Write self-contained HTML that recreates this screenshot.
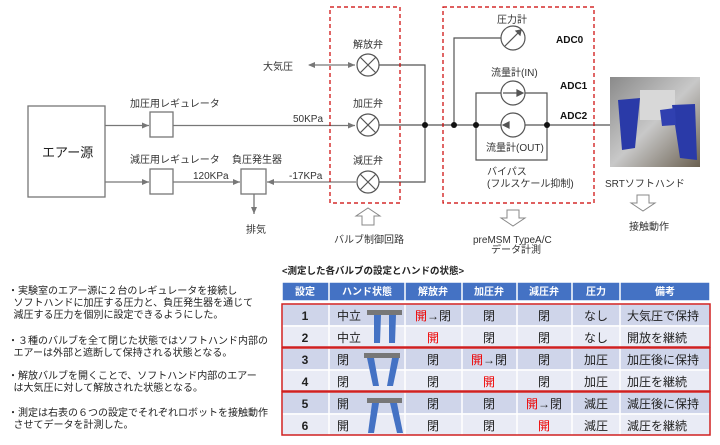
<!DOCTYPE html>
<html><head><meta charset="utf-8"><style>
body{margin:0;width:720px;height:445px;background:#fff;overflow:hidden;font-family:"Liberation Sans","Noto Sans CJK JP",sans-serif;}
.b{position:absolute;font-size:10px;color:#222;line-height:12px;white-space:nowrap}
</style></head><body>
<svg width="720" height="445" style="position:absolute;left:0;top:0" font-family="Liberation Sans, Noto Sans CJK JP, sans-serif">
<defs>
<marker id="a" markerWidth="8" markerHeight="8" refX="7" refY="4" orient="auto" markerUnits="userSpaceOnUse"><path d="M0,1 L7,4 L0,7z" fill="#777"/></marker>
<marker id="as" markerWidth="8" markerHeight="8" refX="1" refY="4" orient="auto" markerUnits="userSpaceOnUse"><path d="M7,1 L0,4 L7,7z" fill="#777"/></marker>
<linearGradient id="ph" x1="0" y1="0" x2="1" y2="1"><stop offset="0" stop-color="#8a8a8a"/><stop offset=".5" stop-color="#c8c8c8"/><stop offset="1" stop-color="#6a6050"/></linearGradient>
</defs>
<g stroke="#777" stroke-width="1.3" fill="none">
<rect x="28" y="106" width="77" height="91" fill="#fff"/>
<rect x="150" y="112" width="23" height="25"/>
<rect x="150" y="169" width="23" height="25"/>
<rect x="241" y="169" width="25" height="25"/>
<line x1="105" y1="125.5" x2="149" y2="125.5" marker-end="url(#a)"/>
<line x1="105" y1="182" x2="149" y2="182" marker-end="url(#a)"/>
<line x1="173" y1="125.5" x2="355" y2="125.5" marker-end="url(#a)"/>
<line x1="173" y1="182" x2="240" y2="182" marker-end="url(#a)"/>
<line x1="356" y1="182" x2="267" y2="182" marker-end="url(#a)"/>
<line x1="254" y1="194" x2="254" y2="214" marker-end="url(#a)"/>
<line x1="309" y1="65" x2="355" y2="65" marker-start="url(#as)" marker-end="url(#a)"/>
</g>
<g stroke="#555" stroke-width="1.2" fill="#fff">
<circle cx="368" cy="65" r="11"/><path d="M360,57 L376,73 M376,57 L360,73"/>
<circle cx="368" cy="125" r="11"/><path d="M360,117 L376,133 M376,117 L360,133"/>
<circle cx="368" cy="182" r="11"/><path d="M360,174 L376,190 M376,174 L360,190"/>
<path fill="none" d="M379,65 H425 V182 H379 M379,125 H610 M454,125 V38 H501 M476,93 V160 H547 V93 Z"/>
<circle cx="513" cy="38" r="12"/><line x1="505" y1="46" x2="521" y2="30"/><path d="M521,30 l-5,1 l4,4z" fill="#555"/>
<circle cx="513" cy="93" r="12"/><line x1="503" y1="93" x2="522" y2="93"/><path d="M523,93 l-6,-3 v6z" fill="#555"/>
<circle cx="513" cy="125" r="12"/><path d="M503,125 l6,-3 v6z" fill="#555"/>
</g>
<g fill="#111"><circle cx="425" cy="125" r="3"/><circle cx="454" cy="125" r="3"/><circle cx="476" cy="125" r="3"/><circle cx="547" cy="125" r="3"/></g>
<rect x="330" y="7" width="70" height="196" fill="none" stroke="#c00" stroke-width="1.2" stroke-dasharray="4,3"/>
<rect x="443" y="7" width="151" height="196" fill="none" stroke="#c00" stroke-width="1.2" stroke-dasharray="4,3"/>
<g fill="#fff" stroke="#888" stroke-width="1">
<path d="M362,225 V216 H356 L368,208 L380,216 H374 V225 Z"/>
<path d="M507,210 V218 H501 L513,226 L525,218 H519 V210 Z"/>
<path d="M637,195 V203 H631 L643,211 L655,203 H649 V195 Z"/>
</g>
<rect x="610" y="77" width="90" height="90" fill="url(#ph)"/>
<rect x="640" y="90" width="35" height="30" fill="#d8d8d8"/>
<path d="M618,100 L640,98 L635,148 L622,150 Z" fill="#2a3aa8"/>
<path d="M672,105 L695,104 L697,160 L680,158 Z" fill="#2a3aa8"/>
<path d="M660,110 L675,108 L676,125 L662,126Z" fill="#3040b0"/>
<g font-size="10" fill="#333">
<text x="263" y="70">大気圧</text>
<text x="130" y="107">加圧用レギュレータ</text>
<text x="130" y="163">減圧用レギュレータ</text>
<text x="232" y="163">負圧発生器</text>
<text x="193" y="179">120KPa</text>
<text x="293" y="122">50KPa</text>
<text x="289" y="179">-17KPa</text>
<text x="246" y="233">排気</text>
<text x="353" y="48">解放弁</text>
<text x="353" y="107">加圧弁</text>
<text x="353" y="164">減圧弁</text>
<text x="334" y="243">バルブ制御回路</text>
<text x="497" y="23">圧力計</text>
<text x="491" y="76">流量計(IN)</text>
<text x="486" y="151">流量計(OUT)</text>
<text x="487" y="175">バイパス</text>
<text x="487" y="187">(フルスケール抑制)</text>
<text x="473" y="243">preMSM TypeA/C</text>
<text x="491" y="253">データ計測</text>
<text x="605" y="187">SRTソフトハンド</text>
<text x="629" y="230">接触動作</text>
</g>
<text x="42" y="157" font-size="13" fill="#222">エアー源</text>
<g font-size="10" font-weight="bold" fill="#111"><text x="556" y="43">ADC0</text><text x="560" y="89">ADC1</text><text x="560" y="119">ADC2</text></g>
</svg>
<div class="b" style="left:8px;top:286px">・実験室のエアー源に２台のレギュレータを接続し<br>&nbsp;&nbsp;ソフトハンドに加圧する圧力と、負圧発生器を通じて<br>&nbsp;&nbsp;減圧する圧力を個別に設定できるようにした。</div>
<div class="b" style="left:8px;top:336px">・３種のバルブを全て閉じた状態ではソフトハンド内部の<br>&nbsp;&nbsp;エアーは外部と遮断して保持される状態となる。</div>
<div class="b" style="left:8px;top:371px">・解放バルブを開くことで、ソフトハンド内部のエアー<br>&nbsp;&nbsp;は大気圧に対して解放された状態となる。</div>
<div class="b" style="left:8px;top:408px">・測定は右表の６つの設定でそれぞれロボットを接触動作<br>&nbsp;&nbsp;させてデータを計測した。</div>
<svg width="720" height="445" style="position:absolute;left:0;top:0" font-family="Liberation Sans, Noto Sans CJK JP, sans-serif">
<text x="282" y="274" font-size="9.5" font-weight="bold" fill="#222">&lt;測定した各バルブの設定とハンドの状態&gt;</text>
<g stroke="#fff" stroke-width="1.5">
<rect x="282" y="282" width="428" height="19" fill="#4472c4"/>
<rect x="282" y="304" width="428" height="22" fill="#cfd5ea"/><rect x="282" y="326" width="428" height="22" fill="#e9ebf5"/>
<rect x="282" y="348" width="428" height="22" fill="#cfd5ea"/><rect x="282" y="370" width="428" height="22" fill="#e9ebf5"/>
<rect x="282" y="392" width="428" height="22" fill="#cfd5ea"/><rect x="282" y="414" width="428" height="22" fill="#e9ebf5"/>
<path d="M329,282V436M405,282V436M462,282V436M517,282V436M572,282V436M620,282V436"/>
</g>
<g fill="none" stroke="#d02020" stroke-width="1.5"><rect x="282" y="304" width="428" height="43"/><rect x="282" y="348" width="428" height="43"/><rect x="282" y="392" width="428" height="43"/></g>
<g font-size="10" font-weight="bold" fill="#fff" text-anchor="middle"><text x="305" y="295">設定</text><text x="367" y="295">ハンド状態</text><text x="433" y="295">解放弁</text><text x="489" y="295">加圧弁</text><text x="544" y="295">減圧弁</text><text x="596" y="295">圧力</text><text x="665" y="295">備考</text></g>
<g font-size="12" fill="#222">
<g font-weight="bold" text-anchor="middle"><text x="305" y="320">1</text><text x="305" y="342">2</text><text x="305" y="364">3</text><text x="305" y="386">4</text><text x="305" y="408">5</text><text x="305" y="430">6</text></g>
<text x="337" y="320">中立</text><text x="337" y="342">中立</text><text x="337" y="364">閉</text><text x="337" y="386">閉</text><text x="337" y="408">開</text><text x="337" y="430">開</text>
<g text-anchor="middle">
<text x="433" y="320"><tspan fill="#e00">開</tspan>→閉</text><text x="433" y="342" fill="#e00">開</text><text x="433" y="364">閉</text><text x="433" y="386">閉</text><text x="433" y="408">閉</text><text x="433" y="430">閉</text>
<text x="489" y="320">閉</text><text x="489" y="342">閉</text><text x="489" y="364"><tspan fill="#e00">開</tspan>→閉</text><text x="489" y="386" fill="#e00">開</text><text x="489" y="408">閉</text><text x="489" y="430">閉</text>
<text x="544" y="320">閉</text><text x="544" y="342">閉</text><text x="544" y="364">閉</text><text x="544" y="386">閉</text><text x="544" y="408"><tspan fill="#e00">開</tspan>→閉</text><text x="544" y="430" fill="#e00">開</text>
<text x="596" y="320">なし</text><text x="596" y="342">なし</text><text x="596" y="364">加圧</text><text x="596" y="386">加圧</text><text x="596" y="408">減圧</text><text x="596" y="430">減圧</text>
</g>
<text x="627" y="320">大気圧で保持</text><text x="627" y="342">開放を継続</text><text x="627" y="364">加圧後に保持</text><text x="627" y="386">加圧を継続</text><text x="627" y="408">減圧後に保持</text><text x="627" y="430">減圧を継続</text>
</g>
<g fill="#4472c4"><rect x="367" y="310" width="35" height="5" fill="#777"/><path d="M374,315h7l-1,28h-6zM389,315h7l-1,28h-6z"/>
<rect x="364" y="353" width="36" height="5" fill="#777"/><path d="M367,358h7l5,28h-6zM392,358h7l-6,28h-6z"/>
<rect x="367" y="398" width="35" height="5" fill="#777"/><path d="M372,403h7l-5,30h-6zM390,403h7l6,30h-6z"/></g>
</svg>
</body></html>
